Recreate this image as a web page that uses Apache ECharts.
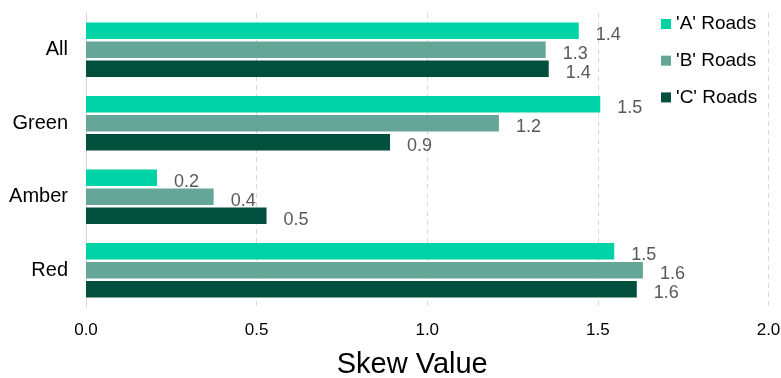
<!DOCTYPE html>
<html>
<head>
<meta charset="utf-8">
<script src="https://cdn.jsdelivr.net/npm/echarts@6/dist/echarts.min.js"></script>
<style>
  html, body { margin: 0; padding: 0; background: #ffffff; }
  #chart { width: 781px; height: 378px; }
</style>
</head>
<body>
<div id="chart"></div>
<script>
// Road classes, listed top to bottom
const categories = ['All', 'Green', 'Amber', 'Red'];
const seriesNames = ["'A' Roads", "'B' Roads", "'C' Roads"];

// Skew values per road class
const aRoads = [1.444, 1.507, 0.208, 1.548];
const bRoads = [1.347, 1.210, 0.374, 1.632];
const cRoads = [1.356, 0.891, 0.529, 1.614];

const xTicks = [0, 0.5, 1.0, 1.5, 2.0];

const colors = ['#00d4a6', '#66a698', '#024f3e'];
const FONT = '"Liberation Sans", Arial, sans-serif';

const chart = echarts.init(document.getElementById('chart'), null, { renderer: 'canvas' });

function barSeries(name, values, color) {
  return {
    name: name,
    type: 'bar',
    data: values,
    barWidth: 16.5,
    barGap: '15%',
    itemStyle: { color: color },
    label: {
      show: true,
      position: 'right',
      distance: 17,
      offset: [0, 4],
      color: '#595959',
      fontFamily: FONT,
      fontSize: 18,
      formatter: p => p.value.toFixed(1)
    }
  };
}

chart.setOption({
  animation: false,
  backgroundColor: '#ffffff',
  textStyle: { fontFamily: FONT },
  // fixed plot box; labels and axis name sit outside it
  grid: { left: 86, right: 12.5, top: 13, bottom: 71, containLabel: false, outerBoundsMode: 'none' },
  legend: {
    orient: 'vertical',
    left: 661,
    top: 14,
    padding: 0,
    icon: 'rect',
    itemWidth: 10,
    itemHeight: 10,
    itemGap: 16.7,
    data: seriesNames,
    textStyle: { fontFamily: FONT, fontSize: 19, color: '#000000', lineHeight: 20 }
  },
  xAxis: {
    type: 'value',
    min: xTicks[0],
    max: xTicks[xTicks.length - 1],
    interval: 0.5,
    name: 'Skew Value',
    nameLocation: 'middle',
    nameGap: 43,
    nameTextStyle: { fontFamily: FONT, fontSize: 29, color: '#000000', padding: [0, 30, 0, 0] },
    axisLine: { show: false },
    axisTick: { show: false },
    axisLabel: {
      margin: 15,
      color: '#000000',
      fontFamily: FONT,
      fontSize: 17,
      formatter: v => v.toFixed(1)
    },
    splitLine: { show: true, lineStyle: { color: '#d9d9d9', type: [5, 4], width: 1 } }
  },
  yAxis: {
    type: 'category',
    data: categories,
    inverse: true,
    axisLine: { show: true, lineStyle: { color: '#d9d9d9', width: 1 } },
    axisTick: { show: false },
    axisLabel: { margin: 18, color: '#000000', fontFamily: FONT, fontSize: 20, padding: [6, 0, 0, 0] }
  },
  series: [
    barSeries(seriesNames[0], aRoads, colors[0]),
    barSeries(seriesNames[1], bRoads, colors[1]),
    barSeries(seriesNames[2], cRoads, colors[2])
  ]
});
</script>
</body>
</html>
